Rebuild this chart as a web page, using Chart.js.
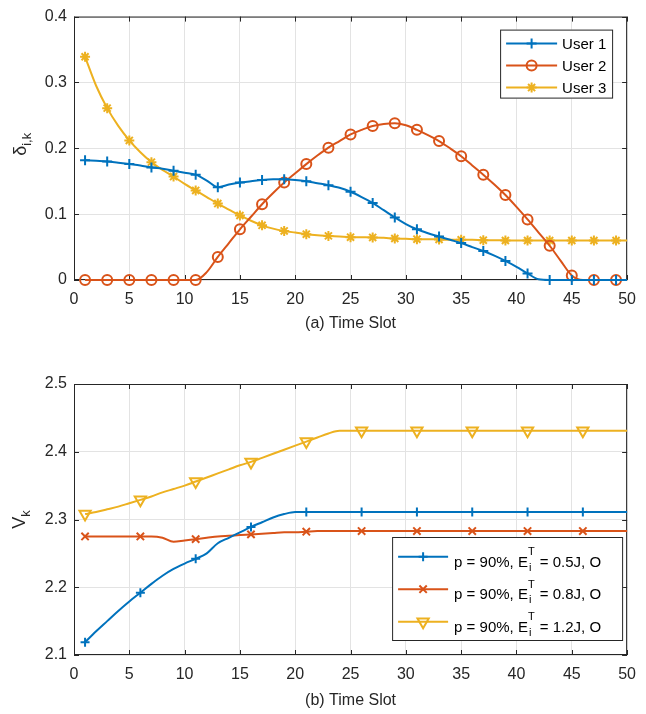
<!DOCTYPE html>
<html>
<head>
<meta charset="utf-8">
<script src="https://cdn.jsdelivr.net/npm/chart.js@4"></script>
<style>
  body { margin: 0; background: #fff; }
  canvas { display: block; }
</style>
</head>
<body>
<canvas id="topChart" width="646" height="357"></canvas>
<canvas id="bottomChart" width="646" height="357"></canvas>
<script>
// time slots 1..50
const slots = Array.from({ length: 50 }, (_, i) => i + 1);

// (a) delta_i,k per user
const user1 = [0.182, 0.181, 0.180, 0.178, 0.176, 0.174, 0.171, 0.169, 0.166, 0.163,
               0.160, 0.151, 0.141, 0.145, 0.148, 0.150, 0.152, 0.153, 0.153, 0.152,
               0.150, 0.147, 0.144, 0.140, 0.134, 0.126, 0.117, 0.106, 0.095, 0.085,
               0.077, 0.071, 0.066, 0.061, 0.056, 0.050, 0.044, 0.037, 0.029, 0.020,
               0.010, 0.001, 0, 0, 0, 0, 0, 0, 0, 0];
const user2 = [0, 0, 0, 0, 0, 0, 0, 0, 0, 0,
               0, 0.012, 0.035, 0.056, 0.077, 0.096, 0.115, 0.132, 0.148, 0.162,
               0.176, 0.189, 0.201, 0.211, 0.221, 0.228, 0.234, 0.237, 0.238, 0.235,
               0.228, 0.220, 0.211, 0.200, 0.188, 0.174, 0.160, 0.145, 0.129, 0.111,
               0.092, 0.072, 0.052, 0.029, 0.007, 0, 0, 0, 0, 0];
const user3 = [0.339, 0.295, 0.261, 0.234, 0.212, 0.194, 0.179, 0.167, 0.157, 0.146,
               0.136, 0.126, 0.116, 0.107, 0.098, 0.090, 0.083, 0.078, 0.0745, 0.072,
               0.0696, 0.068, 0.067, 0.066, 0.065, 0.0648, 0.0647, 0.064, 0.063, 0.0625,
               0.062, 0.062, 0.0615, 0.061, 0.061, 0.061, 0.0605, 0.0605, 0.060, 0.060,
               0.060, 0.060, 0.060, 0.060, 0.060, 0.060, 0.060, 0.060, 0.060, 0.060];
const userNames = ['User 1', 'User 2', 'User 3'];

// (b) V_k for three energy budgets
const v05 = [2.119, 2.135, 2.150, 2.165, 2.179, 2.192, 2.205, 2.217, 2.227, 2.235,
             2.242, 2.250, 2.265, 2.273, 2.281, 2.289, 2.296, 2.303, 2.308, 2.311,
             2.311, 2.311, 2.311, 2.311, 2.311, 2.311, 2.311, 2.311, 2.311, 2.311,
             2.311, 2.311, 2.311, 2.311, 2.311, 2.311, 2.311, 2.311, 2.311, 2.311,
             2.311, 2.311, 2.311, 2.311, 2.311, 2.311, 2.311, 2.311, 2.311, 2.311];
const v08 = [2.275, 2.275, 2.275, 2.275, 2.275, 2.275, 2.275, 2.273, 2.267, 2.269,
             2.271, 2.273, 2.275, 2.276, 2.277, 2.278, 2.279, 2.280, 2.281, 2.281,
             2.282, 2.283, 2.283, 2.283, 2.283, 2.283, 2.283, 2.283, 2.283, 2.283,
             2.283, 2.283, 2.283, 2.283, 2.283, 2.283, 2.283, 2.283, 2.283, 2.283,
             2.283, 2.283, 2.283, 2.283, 2.283, 2.283, 2.283, 2.283, 2.283, 2.283];
const v12 = [2.308, 2.311, 2.315, 2.319, 2.324, 2.329, 2.334, 2.340, 2.345, 2.350,
             2.356, 2.362, 2.368, 2.374, 2.380, 2.385, 2.391, 2.397, 2.403, 2.409,
             2.415, 2.421, 2.427, 2.431, 2.431, 2.431, 2.431, 2.431, 2.431, 2.431,
             2.431, 2.431, 2.431, 2.431, 2.431, 2.431, 2.431, 2.431, 2.431, 2.431,
             2.431, 2.431, 2.431, 2.431, 2.431, 2.431, 2.431, 2.431, 2.431, 2.431];
const energies = ['0.5J', '0.8J', '1.2J'];

const BLUE = '#0072BD', RED = '#D95319', YEL = '#EDB120';
const INK = '#262626';
const FONT = 'Liberation Sans, Arial, sans-serif';
Chart.defaults.font.family = FONT;
Chart.defaults.color = INK;

function marker(ctx, style, x, y, r, color) {
  ctx.save();
  ctx.strokeStyle = color;
  ctx.lineWidth = 2;
  ctx.beginPath();
  const d = r * Math.SQRT1_2;
  if (style === 'cross' || style === 'star') {
    ctx.moveTo(x - r, y); ctx.lineTo(x + r, y);
    ctx.moveTo(x, y - r); ctx.lineTo(x, y + r);
  }
  if (style === 'crossRot' || style === 'star') {
    ctx.moveTo(x - d, y - d); ctx.lineTo(x + d, y + d);
    ctx.moveTo(x - d, y + d); ctx.lineTo(x + d, y - d);
  }
  if (style === 'circle') ctx.arc(x, y, r, 0, Math.PI * 2);
  if (style === 'triangle') {
    for (let k = 0; k < 3; k++) {
      const a = Math.PI + k * 2 * Math.PI / 3;
      const px = x + Math.sin(a) * r, py = y - Math.cos(a) * r;
      k ? ctx.lineTo(px, py) : ctx.moveTo(px, py);
    }
    ctx.closePath();
  }
  ctx.stroke();
  ctx.restore();
}

function series(label, ys, color, style, every, r, rot) {
  return {
    label: label,
    data: slots.map((x, i) => ({ x: x, y: ys[i] })),
    borderColor: color,
    borderWidth: 2,
    pointStyle: style,
    pointRotation: rot || 0,
    pointBorderColor: color,
    pointBackgroundColor: 'rgba(0,0,0,0)',
    pointBorderWidth: 2,
    pointRadius: c => (c.dataIndex % every === 0 ? r : 0),
    pointHoverRadius: 0,
    cubicInterpolationMode: 'monotone',
    clip: false
  };
}

// axes box, inner tick marks, y title with subscript, legend
const decor = {
  id: 'decor',
  beforeDatasetsDraw(chart, args, o) {
    const { ctx, chartArea: a, scales } = chart;
    ctx.save();
    ctx.strokeStyle = INK;
    ctx.lineWidth = 1;
    ctx.strokeRect(a.left + 0.5, a.top + 0.5, a.right - a.left - 1, a.bottom - a.top - 1);
    ctx.beginPath();
    scales.x.ticks.forEach(t => {
      const px = Math.round(scales.x.getPixelForValue(t.value)) + 0.5;
      ctx.moveTo(px, a.bottom); ctx.lineTo(px, a.bottom - 5);
      ctx.moveTo(px, a.top); ctx.lineTo(px, a.top + 5);
    });
    scales.y.ticks.forEach(t => {
      const py = Math.round(scales.y.getPixelForValue(t.value)) + 0.5;
      ctx.moveTo(a.left, py); ctx.lineTo(a.left + 5, py);
      ctx.moveTo(a.right, py); ctx.lineTo(a.right - 5, py);
    });
    ctx.stroke();
    ctx.restore();
  },
  afterDraw(chart, args, o) {
    const { ctx, chartArea: a } = chart;
    // y title
    ctx.save();
    ctx.translate(o.ytitleX, (a.top + a.bottom) / 2 + o.ytitleShift);
    ctx.rotate(-Math.PI / 2);
    ctx.fillStyle = INK;
    ctx.textBaseline = 'alphabetic';
    ctx.font = '18px ' + FONT;
    const mainW = ctx.measureText(o.ytitle[0]).width;
    ctx.font = '13px ' + FONT;
    const subW = ctx.measureText(o.ytitle[1]).width;
    const x0 = -(mainW + subW) / 2;
    ctx.font = '18px ' + FONT;
    ctx.fillText(o.ytitle[0], x0, 6);
    ctx.font = '13px ' + FONT;
    ctx.fillText(o.ytitle[1], x0 + mainW, 11);
    ctx.restore();

    // legend
    const L = o.legend;
    const bx = a.right - L.right - L.w, by = L.fromBottom ? a.bottom - L.fromBottom - L.h : a.top + L.top;
    ctx.save();
    ctx.fillStyle = '#fff';
    ctx.fillRect(bx, by, L.w, L.h);
    ctx.strokeStyle = INK;
    ctx.lineWidth = 1;
    ctx.strokeRect(bx + 0.5, by + 0.5, L.w - 1, L.h - 1);
    L.items.forEach((it, i) => {
      const y = by + L.first + i * L.gap;
      ctx.strokeStyle = it.color;
      ctx.lineWidth = 2;
      ctx.beginPath();
      ctx.moveTo(bx + 6, y); ctx.lineTo(bx + 6 + L.lineLen, y);
      ctx.stroke();
      marker(ctx, it.style, bx + 6 + L.lineLen / 2, y, it.r, it.color);
      ctx.fillStyle = '#000';
      ctx.textBaseline = 'alphabetic';
      let tx = bx + L.textX;
      ctx.font = '15px ' + FONT;
      if (it.sup) {
        ctx.fillText(it.pre, tx, y + L.base);
        tx += ctx.measureText(it.pre).width;
        ctx.font = '11px ' + FONT;
        ctx.fillText(it.sup, tx, y - 1.5);
        ctx.fillText(it.sub, tx + 1, y + 14);
        tx += Math.max(ctx.measureText(it.sup).width, ctx.measureText(it.sub).width) + 1;
        ctx.font = '15px ' + FONT;
        ctx.fillText(it.post, tx, y + L.base);
      } else {
        ctx.fillText(it.text, tx, y + L.base);
      }
    });
    ctx.restore();
  }
};

function xAxis(title, height, titlePad) {
  return {
    type: 'linear', min: 0, max: 50,
    ticks: { stepSize: 5, autoSkip: false, maxRotation: 0, padding: 10, color: INK, font: { size: 16 } },
    grid: { color: '#e3e3e3', drawTicks: false },
    border: { display: false },
    title: { display: true, text: title, color: INK, font: { size: 16 }, padding: { top: 0, bottom: titlePad } },
    afterFit: s => { s.height = height; }
  };
}

function yAxis(min, max) {
  return {
    min: min, max: max,
    ticks: {
      stepSize: 0.1, padding: 7, color: INK, font: { size: 16 },
      callback: v => String(Number(v.toFixed(2)))
    },
    grid: { color: '#e3e3e3', drawTicks: false },
    border: { display: false },
    afterFit: s => { s.width = 74; }
  };
}

new Chart(document.getElementById('topChart'), {
  type: 'line',
  data: {
    datasets: [
      series(userNames[0], user1, BLUE, 'cross', 2, 5),
      series(userNames[1], user2, RED, 'circle', 2, 5),
      series(userNames[2], user3, YEL, 'star', 2, 5)
    ]
  },
  options: {
    responsive: false,
    animation: false,
    layout: { padding: { left: 0, right: 9, top: 8, bottom: 0 } },
    scales: { x: xAxis('(a) Time Slot', 77, 24), y: yAxis(0, 0.4) },
    plugins: {
      legend: { display: false },
      tooltip: { enabled: false },
      decor: {
        ytitleX: 20, ytitleShift: -4, ytitle: ['δ', 'i,k'],
        legend: {
          right: 14, top: 13, w: 113, h: 69, first: 14, gap: 22, lineLen: 51, textX: 62, base: 5.5,
          items: [
            { text: userNames[0], color: BLUE, style: 'cross', r: 5 },
            { text: userNames[1], color: RED, style: 'circle', r: 5 },
            { text: userNames[2], color: YEL, style: 'star', r: 5 }
          ]
        }
      }
    }
  },
  plugins: [decor]
});

new Chart(document.getElementById('bottomChart'), {
  type: 'line',
  data: {
    datasets: [
      series('E 0.5J', v05, BLUE, 'cross', 5, 4.5),
      series('E 0.8J', v08, RED, 'crossRot', 5, 5.2),
      series('E 1.2J', v12, YEL, 'triangle', 5, 6.5, 180)
    ]
  },
  options: {
    responsive: false,
    animation: false,
    layout: { padding: { left: 0, right: 9, top: 27, bottom: 0 } },
    scales: { x: xAxis('(b) Time Slot', 59, 4), y: yAxis(2.1, 2.5) },
    plugins: {
      legend: { display: false },
      tooltip: { enabled: false },
      decor: {
        ytitleX: 19, ytitleShift: 0, ytitle: ['V', 'k'],
        legend: {
          right: 4, fromBottom: 14, w: 231, h: 104, first: 19.7, gap: 32.5, lineLen: 50, textX: 62, base: 10,
          items: [
            { pre: 'p = 90%, E', sup: 'T', sub: 'i', post: ' = ' + energies[0] + ', O', color: BLUE, style: 'cross', r: 4.5 },
            { pre: 'p = 90%, E', sup: 'T', sub: 'i', post: ' = ' + energies[1] + ', O', color: RED, style: 'crossRot', r: 5.2 },
            { pre: 'p = 90%, E', sup: 'T', sub: 'i', post: ' = ' + energies[2] + ', O', color: YEL, style: 'triangle', r: 6.5 }
          ]
        }
      }
    }
  },
  plugins: [decor]
});
</script>
</body>
</html>
